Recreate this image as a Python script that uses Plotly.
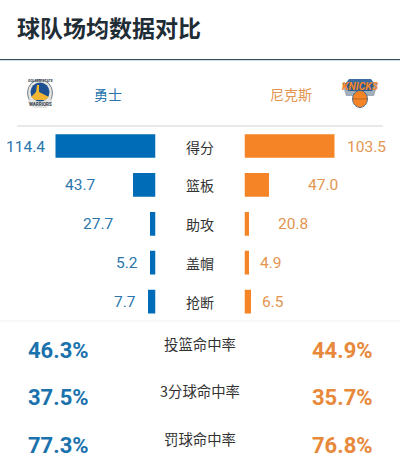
import plotly.graph_objects as go

W, H = 400, 461

# stats table
categories = ["得分", "篮板", "助攻", "盖帽", "抢断"]
warriors_values = ["114.4", "43.7", "27.7", "5.2", "7.7"]
knicks_values = ["103.5", "47.0", "20.8", "4.9", "6.5"]
# bar lengths, they are not in scale with the labels
warriors_bars = [100, 22.5, 5.5, 5.5, 7.5]
knicks_bars = [90, 24.5, 4.5, 4.5, 6.5]

pct_names = ["投篮命中率", "3分球命中率", "罚球命中率"]
warriors_pct = ["46.3%", "37.5%", "77.3%"]
knicks_pct = ["44.9%", "35.7%", "76.8%"]

BLUE = "#006bb6"
ORANGE = "#f58426"
BLUE_TEXT = "#2a76ab"
ORANGE_TEXT = "#e3954f"
CN = "Noto Sans CJK SC"
NUM = "Roboto"

# gap between bar end and value label, in px
home_gaps = [11, 37, 36, 12, 12]
away_gaps = [12, 39, 29, 11, 11]


def px(x):
    return x / W


def py(y):
    return 1 - y / H


fig = go.Figure()

fig.add_trace(go.Bar(
    y=categories, x=warriors_bars, orientation="h",
    marker=dict(color=BLUE, line=dict(width=0)),
    xaxis="x", yaxis="y", showlegend=False,
))
fig.add_trace(go.Bar(
    y=categories, x=knicks_bars, orientation="h",
    marker=dict(color=ORANGE, line=dict(width=0)),
    xaxis="x2", yaxis="y", showlegend=False,
))

annotations = []


def label(x, y, text, size, color, anchor="center", font=CN, bold=False):
    if bold:
        text = "<b>" + text + "</b>"
    annotations.append(dict(
        x=px(x), y=py(y), xref="paper", yref="paper", text=text, showarrow=False,
        xanchor=anchor, yanchor="middle", borderpad=0, borderwidth=0,
        font=dict(family=font, size=size, color=color),
    ))


label(17, 27, "球队场均数据对比", 23, "#1f2d36", "left", bold=True)
label(108, 94, "勇士", 14, BLUE_TEXT)
label(291, 94, "尼克斯", 14, ORANGE_TEXT)

ROW_Y = 146
ROW_H = 38.9
for i, cat in enumerate(categories):
    y = ROW_Y + i * ROW_H
    label(200, y + 0.5, cat, 14, "#333333")
    label(155.5 - warriors_bars[i] - home_gaps[i], y + 0.5, warriors_values[i], 15.5, BLUE_TEXT, "right", NUM)
    label(244.5 + knicks_bars[i] + away_gaps[i], y + 0.5, knicks_values[i], 15.5, ORANGE_TEXT, "left", NUM)

for i, name in enumerate(pct_names):
    y = 350 + i * 47.5
    label(200, y - 7, name, 14.4, "#333333")
    label(58.5, y, warriors_pct[i], 22, "#1a72ad", font=NUM, bold=True)
    label(342, y, knicks_pct[i], 22, "#e8883a", font=NUM, bold=True)

# tiny lettering inside the logos
label(40, 81, "GOLDEN STATE", 3.5, "#33404d", font=NUM, bold=True)
label(40, 105, "WARRIORS", 4.5, "#33404d", font=NUM, bold=True)
label(360, 87, "<i>KNICKS</i>", 10.5, "#f58426", font=NUM, bold=True)


def rule(x0, x1, y, color, width=1):
    return dict(type="line", xref="paper", yref="paper", x0=px(x0), x1=px(x1), y0=py(y), y1=py(y),
                line=dict(color=color, width=width))


def circle(cx, cy, rx, ry, fill, line_color=None, line_width=0):
    return dict(type="circle", xref="paper", yref="paper",
                x0=px(cx - rx), x1=px(cx + rx), y0=py(cy + ry), y1=py(cy - ry),
                fillcolor=fill, line=dict(color=line_color or fill, width=line_width))


def poly(points, fill):
    path = "M " + " L ".join(f"{px(x)} {py(y)}" for x, y in points) + " Z"
    return dict(type="path", xref="paper", yref="paper", path=path, fillcolor=fill, line=dict(width=0))


shapes = [
    rule(0, 400, 59.5, "#33505f", 1),
    rule(0, 400, 60.5, "#d5dde2", 1),
    rule(17, 383, 126, "#d2d2d2", 1),
    rule(0, 400, 321, "#f1f1f1", 1),
    # warriors logo
    circle(40, 93, 12.5, 13.5, "#e4e4e0", "#5a6570", 0.8),
    circle(40, 92, 9.5, 9.5, "#1d4f91"),
    poly([(31, 97), (36, 92), (37, 85), (39, 85), (39, 92), (49, 97), (45, 100), (35, 100)], "#f2b632"),
    poly([(35, 102), (45, 102), (52, 99), (52, 103), (46, 108), (34, 108), (28, 103), (28, 99)], "#e4e4e0"),
    # knicks logo
    poly([(349, 79), (371, 79), (374, 83), (346, 83)], "#3c6da0"),
    poly([(342, 83), (378, 83), (374, 96), (346, 96)], "#a2afba"),
    poly([(345, 83), (375, 83), (372, 91), (348, 91)], "#2d5f92"),
    circle(360, 99, 7.5, 8.5, ORANGE, "#2d5f92", 0.8),
    rule(352.5, 367.5, 99, "#7a4a20", 0.5),
]

fig.update_layout(
    width=W, height=H, margin=dict(l=0, r=0, t=0, b=0),
    autosize=False, paper_bgcolor="white", plot_bgcolor="white",
    barmode="overlay", bargap=0.39,
    xaxis=dict(domain=[0, px(155.5)], range=[155.5, 0], visible=False, fixedrange=True),
    xaxis2=dict(domain=[px(244.5), 1], range=[0, 155.5], visible=False, fixedrange=True),
    yaxis=dict(domain=[py(ROW_Y + 4.5 * ROW_H), py(ROW_Y - 0.5 * ROW_H)],
               range=[4.5, -0.5], type="category", visible=False, fixedrange=True),
    annotations=annotations, shapes=shapes,
)

# browser default body margin would push the figure 8px off
fig.write_html("out.html", post_script="document.body.style.margin='0';",
               config=dict(displayModeBar=False))
